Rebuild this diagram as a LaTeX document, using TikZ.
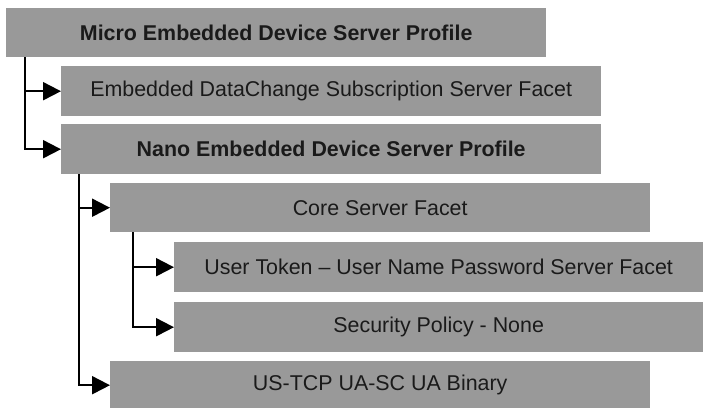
\documentclass[tikz,border=0pt]{standalone}
\usepackage{fontspec}
\setmainfont{Liberation Sans}
\usetikzlibrary{arrows.meta}
\definecolor{boxgray}{HTML}{999999}
\definecolor{txt}{HTML}{1A1A1A}
\tikzset{
  box/.style={rectangle, fill=boxgray, anchor=north west, inner sep=0pt,
    minimum height=50pt, text=txt, font=\fontsize{21.4}{25}\selectfont},
  conn/.style={line width=2pt, black, -{Triangle[length=18pt,width=18pt]}},
}
\begin{document}
\begin{tikzpicture}[x=1pt,y=-1pt]
\useasboundingbox (0,0) rectangle (704,407);
\node[box, minimum width=540pt, minimum height=49pt, font=\fontsize{21.4}{25}\selectfont\bfseries] (b1) at (6,8) {Micro Embedded Device Server Profile};
\node[box, minimum width=540pt] (b2) at (61,66) {Embedded DataChange Subscription Server Facet};
\node[box, minimum width=540pt, font=\fontsize{21.4}{25}\selectfont\bfseries] (b3) at (61,124) {Nano Embedded Device Server Profile};
\node[box, minimum width=540pt, minimum height=49pt] (b4) at (110,183) {Core Server Facet};
\node[box, minimum width=529pt] (b5) at (174,242) {User Token -- User Name Password Server Facet};
\node[box, minimum width=529pt] (b6) at (174,302) {Security Policy - None};
\node[box, minimum width=540pt, minimum height=48pt] (b7) at (110,361) {US-TCP UA-SC UA Binary};
\draw[conn] ([xshift=19pt]b1.south west) |- (b2.west);
\draw[conn] ([xshift=19pt]b1.south west) |- (b3.west);
\draw[conn] ([xshift=18pt]b3.south west) |- (b4.west);
\draw[conn] ([xshift=18pt]b3.south west) |- (b7.west);
\draw[conn] ([xshift=23pt]b4.south west) |- (b5.west);
\draw[conn] ([xshift=23pt]b4.south west) |- (b6.west);
\end{tikzpicture}
\end{document}
